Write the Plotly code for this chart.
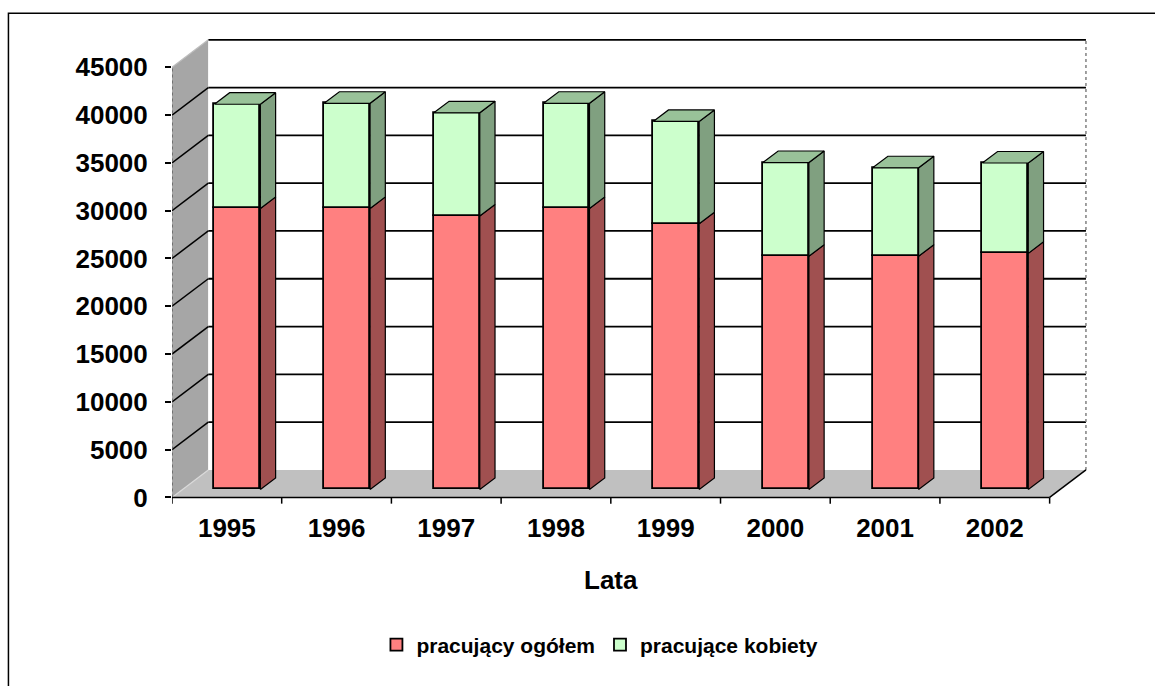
import plotly.graph_objects as go

# ---------------- data ----------------
years = ["1995", "1996", "1997", "1998", "1999", "2000", "2001", "2002"]
pracujacy_ogolem = [29400, 29400, 28600, 29400, 27800, 24400, 24400, 24700]
pracujace_kobiety = [10900, 11000, 10800, 11000, 10700, 9800, 9250, 9450]
y_ticks = [0, 5000, 10000, 15000, 20000, 25000, 30000, 35000, 40000, 45000]
series_names = ["pracujący ogółem", "pracujące kobiety"]

# ---------------- 3D-look geometry (in axis units) ----------------
N = len(years)
YMAX_WALL = 45000
DX = 0.331          # depth offset along x (category units)
DY = 2876           # depth offset along y (value units)
F0, F1 = 0.29, 0.71  # bar front/back depth fractions
BW = 0.419          # bar width

RED_FRONT, RED_SIDE = "#FF8080", "#A05050"
GRN_FRONT, GRN_SIDE, GRN_TOP = "#CCFFCC", "#80A080", "#99C299"
FONT = "Liberation Sans, Arial, sans-serif"

fig = go.Figure()

# front faces as real bars
xc = [i + 0.5 + F0 * DX for i in range(N)]
base_red = [F0 * DY] * N
base_grn = [F0 * DY + r for r in pracujacy_ogolem]
fig.add_trace(go.Bar(x=xc, y=pracujacy_ogolem, base=base_red, width=BW,
                     name="<b>" + series_names[0] + "</b>",
                     marker=dict(color=RED_FRONT, line=dict(color="black", width=1.8))))
fig.add_trace(go.Bar(x=xc, y=pracujace_kobiety, base=base_grn, width=BW,
                     name="<b>" + series_names[1] + "</b>",
                     marker=dict(color=GRN_FRONT, line=dict(color="black", width=1.8))))

# side and top faces
def side_poly(bottoms, tops):
    xs, ys = [], []
    dd = (F1 - F0) * DX
    for i in range(N):
        xr = xc[i] + BW / 2
        b0 = bottoms[i] + F0 * DY
        t0 = tops[i] + F0 * DY
        b1 = bottoms[i] + F1 * DY
        t1 = tops[i] + F1 * DY
        xs += [xr, xr + dd, xr + dd, xr, xr, None]
        ys += [b0, b1, t1, t0, b0, None]
    return xs, ys

def top_poly(tops):
    xs, ys = [], []
    dd = (F1 - F0) * DX
    for i in range(N):
        xl = xc[i] - BW / 2
        xr = xc[i] + BW / 2
        t0 = tops[i] + F0 * DY
        t1 = tops[i] + F1 * DY
        xs += [xl, xr, xr + dd, xl + dd, xl, None]
        ys += [t0, t0, t1, t1, t0, None]
    return xs, ys

zeros = [0] * N
totals = [r + g for r, g in zip(pracujacy_ogolem, pracujace_kobiety)]
for (xs, ys), col in [(side_poly(zeros, pracujacy_ogolem), RED_SIDE),
                      (side_poly(pracujacy_ogolem, totals), GRN_SIDE),
                      (top_poly(totals), GRN_TOP)]:
    fig.add_trace(go.Scatter(x=xs, y=ys, mode="lines", fill="toself", fillcolor=col,
                             line=dict(color="black", width=1.2), showlegend=False,
                             hoverinfo="skip"))

# ---------------- walls, floor, gridlines (shapes below traces) ----------------
shapes = []
def path(pts):
    return "M " + " L ".join(f"{x},{y}" for x, y in pts) + " Z"

# side wall
shapes.append(dict(type="path", layer="below", xref="x", yref="y",
                   path=path([(0, 0), (DX, DY), (DX, YMAX_WALL + DY), (0, YMAX_WALL)]),
                   fillcolor="#A6A6A6", line=dict(width=0)))
# back wall
shapes.append(dict(type="path", layer="below", xref="x", yref="y",
                   path=path([(DX, DY), (N + DX, DY), (N + DX, YMAX_WALL + DY), (DX, YMAX_WALL + DY)]),
                   fillcolor="white", line=dict(width=0)))
# floor
shapes.append(dict(type="path", layer="below", xref="x", yref="y",
                   path=path([(0, 0), (N, 0), (N + DX, DY), (DX, DY)]),
                   fillcolor="#C0C0C0", line=dict(width=0)))
# floor left edge (light)
shapes.append(dict(type="line", layer="below", xref="x", yref="y",
                   x0=0, y0=0, x1=DX, y1=DY, line=dict(color="#D9D9D9", width=1.2)))
# gridlines
for v in y_ticks[1:]:
    if v < YMAX_WALL:
        shapes.append(dict(type="line", layer="below", xref="x", yref="y",
                           x0=0, y0=v, x1=DX, y1=v + DY, line=dict(color="black", width=1.5)))
    shapes.append(dict(type="line", layer="below", xref="x", yref="y",
                       x0=DX, y0=v + DY, x1=N + DX, y1=v + DY, line=dict(color="black", width=1.8)))
# back wall right edge and front axis (dotted)
shapes.append(dict(type="line", layer="below", xref="x", yref="y",
                   x0=N + DX, y0=DY, x1=N + DX, y1=YMAX_WALL + DY,
                   line=dict(color="#808080", width=1.5, dash="dot")))
shapes.append(dict(type="line", layer="below", xref="x", yref="y",
                   x0=0, y0=0, x1=0, y1=YMAX_WALL,
                   line=dict(color="#606060", width=1.5, dash="dot")))
shapes.append(dict(type="line", layer="below", xref="x", yref="y",
                   x0=0, y0=YMAX_WALL, x1=DX, y1=YMAX_WALL + DY,
                   line=dict(color="#BDBDBD", width=1.2)))
# floor front edge and right edge
shapes.append(dict(type="line", xref="x", yref="y", x0=0, y0=0, x1=N, y1=0,
                   line=dict(color="black", width=1.5)))
shapes.append(dict(type="line", xref="x", yref="y", x0=N, y0=0, x1=N + DX, y1=DY,
                   line=dict(color="black", width=1.5)))
# category tick marks
for k in range(N + 1):
    shapes.append(dict(type="line", xref="x", yref="y", x0=k, y0=0, x1=k, y1=-650,
                       line=dict(color="black", width=1.5)))

# ---------------- layout ----------------
W, H = 1155, 686
L, R = 171.7, 55.5
YMIN, YMAXR = -1000, 48900
B = 179.1
T = H - B - 477.1
plot_w = W - L - R
plot_h = H - T - B
XR = 8.45

def px_to_paper_x(px):
    return (px - L) / plot_w

def px_to_paper_y(py):
    return (H - B - py) / plot_h

# outer chart border (extends past right/bottom edges)
shapes.append(dict(type="rect", xref="paper", yref="paper",
                   x0=px_to_paper_x(8), x1=px_to_paper_x(1170),
                   y0=px_to_paper_y(700), y1=px_to_paper_y(13),
                   line=dict(color="black", width=1.5), fillcolor="rgba(0,0,0,0)"))

AXFONT = dict(size=26, family=FONT, weight=700, color="black")

fig.update_layout(
    width=W, height=H,
    margin=dict(l=L, r=R, t=T, b=B, pad=0),
    paper_bgcolor="white", plot_bgcolor="rgba(0,0,0,0)",
    barmode="overlay", bargap=0,
    shapes=shapes,
    font=dict(family=FONT, color="black"),
    showlegend=True,
    legend=dict(orientation="h", x=px_to_paper_x(600), xanchor="center",
                y=px_to_paper_y(645), yanchor="middle",
                font=dict(size=21, family=FONT, weight=700, color="black"),
                bgcolor="rgba(0,0,0,0)", itemwidth=30, traceorder="normal"),
    xaxis=dict(range=[0, XR], tickmode="array",
               tickvals=[i + 0.5 for i in range(N)], ticktext=years,
               ticks="", showgrid=False, zeroline=False, showline=False,
               tickfont=AXFONT, ticklabelstandoff=3, fixedrange=True),
    yaxis=dict(range=[YMIN, YMAXR], tickmode="array", tickvals=y_ticks,
               ticktext=[str(v) for v in y_ticks],
               ticks="outside", ticklen=6, tickwidth=1.5, tickcolor="black",
               showgrid=False, zeroline=False, showline=False,
               tickfont=AXFONT, ticklabelstandoff=12, fixedrange=True),
    annotations=[dict(text="Lata", xref="x", yref="paper", x=N / 2, y=px_to_paper_y(579.5),
                      xanchor="center", yanchor="middle", showarrow=False,
                      font=AXFONT)],
)

fig.write_html("out.html", config={"displayModeBar": False},
               post_script="document.body.style.margin='0';")
